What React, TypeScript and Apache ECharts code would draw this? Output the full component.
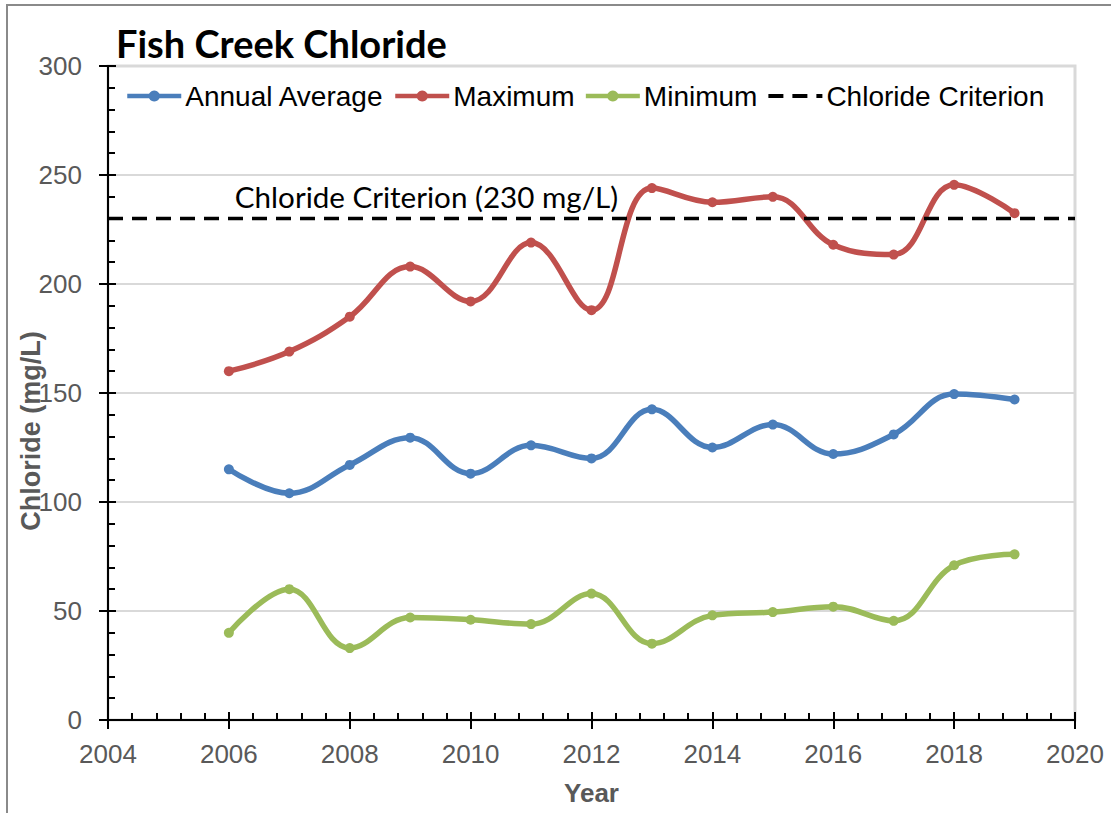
import React, { useEffect, useRef } from "react";
import * as echarts from "echarts";

const years = [2006, 2007, 2008, 2009, 2010, 2011, 2012, 2013, 2014, 2015, 2016, 2017, 2018, 2019];
const annualAverage = [115, 104, 117, 129.5, 113, 126, 120, 142.5, 125, 135.5, 122, 131, 149.5, 147];
const maximum = [160, 169, 185, 208, 192, 219, 188, 244, 237.5, 240, 218, 213.5, 245.5, 232.5];
const minimum = [40, 60, 33, 47, 46, 44, 58, 35, 48, 49.5, 52, 45.5, 71, 76];
const criterionValue = 230;
const criterionSpan = [2004, 2020];
const criterionLabel = "Chloride Criterion (230 mg/L)";
const criterionLabelAt = [2009.27, 240];
const seriesNames = ["Annual Average", "Maximum", "Minimum", "Chloride Criterion"];
const title = "Fish Creek Chloride";
const yName = "Chloride (mg/L)";
const xName = "Year";

const zip = (xs: number[], ys: number[]) => xs.map((x, i) => [x, ys[i]]);

export default function App() {
  const ref = useRef<HTMLDivElement>(null);
  useEffect(() => {
    if (!ref.current) return;
    const chart = echarts.init(ref.current, null, { renderer: "svg" });
    const tickFont = { fontFamily: "Liberation Sans, Arial, sans-serif", fontSize: 26, color: "#595959" };
    const lineSeries = (name: string, data: number[], color: string) => ({
      name,
      type: "line",
      data: zip(years, data),
      smooth: 0.4,
      symbol: "circle",
      symbolSize: 10,
      showSymbol: true,
      lineStyle: { color, width: 5.5 },
      itemStyle: { color },
      z: 3,
    });
    chart.setOption({
      animation: false,
      backgroundColor: "#ffffff",
      title: {
        text: title,
        left: 116,
        top: 24,
        padding: 0,
        textStyle: { fontFamily: "Lato, sans-serif", fontWeight: "bold", fontSize: 38, color: "#000" },
      },
      legend: {
        data: [
          { name: seriesNames[0] },
          { name: seriesNames[1] },
          { name: seriesNames[2] },
          { name: seriesNames[3], lineStyle: { width: 4 } },
        ],
        left: 125,
        top: 82,
        padding: 0,
        itemGap: 9,
        itemWidth: 54,
        itemHeight: 14,
        lineStyle: { width: 4.5 },
        textStyle: { fontFamily: "Liberation Sans, Arial, sans-serif", fontSize: 28, color: "#000", padding: [0, 0, 0, -1] },
      },
      grid: {
        left: 108,
        right: 36,
        top: 66,
        bottom: 93,
        show: true,
        borderColor: "#d9d9d9",
        borderWidth: 3,
        outerBoundsMode: "none",
        containLabel: false,
      },
      xAxis: [
        {
          type: "value",
          min: 2004,
          max: 2020,
          interval: 2,
          position: "bottom",
          name: xName,
          nameLocation: "middle",
          nameGap: 60,
          nameTextStyle: { fontFamily: "Liberation Sans, Arial, sans-serif", fontSize: 26, fontWeight: "bold", color: "#595959" },
          axisLine: { show: true, lineStyle: { color: "#000", width: 2 } },
          axisTick: { show: true, length: 9, lineStyle: { color: "#000", width: 2 } },
          axisLabel: { ...tickFont, margin: 21, formatter: (v: number) => String(v) },
          splitLine: { show: false },
          minorTick: { show: false },
        },
        {
          type: "value",
          min: 2004,
          max: 2020,
          interval: 2,
          position: "bottom",
          axisLine: { show: false },
          axisTick: { show: true, inside: true, length: 8, lineStyle: { color: "#000", width: 2 } },
          minorTick: { show: true, splitNumber: 5, length: 7, lineStyle: { color: "#000", width: 2 } },
          axisLabel: { show: false },
          splitLine: { show: false },
        },
      ],
      yAxis: [
        {
          type: "value",
          min: 0,
          max: 300,
          interval: 50,
          axisLine: { show: true, lineStyle: { color: "#000", width: 2 } },
          axisTick: { show: true, length: 9, lineStyle: { color: "#000", width: 2 } },
          axisLabel: { ...tickFont, margin: 26 },
          splitLine: { show: true, lineStyle: { color: "#d9d9d9", width: 2 } },
          minorTick: { show: false },
        },
        {
          type: "value",
          min: 0,
          max: 300,
          interval: 50,
          position: "left",
          axisLine: { show: false },
          axisTick: { show: true, inside: true, length: 8, lineStyle: { color: "#000", width: 2 } },
          minorTick: { show: true, splitNumber: 5, length: 7, lineStyle: { color: "#000", width: 2 } },
          axisLabel: { show: false },
          splitLine: { show: false },
        },
      ],
      graphic: [
        { type: "line", shape: { x1: 6, y1: 5, x2: 1111, y2: 5 }, style: { stroke: "#8a8a8a", lineWidth: 2 } },
        { type: "line", shape: { x1: 7, y1: 5, x2: 7, y2: 813 }, style: { stroke: "#8a8a8a", lineWidth: 2 } },
        {
          type: "text",
          x: 31,
          y: 431,
          rotation: Math.PI / 2,
          style: {
            text: yName,
            fontFamily: "Liberation Sans, Arial, sans-serif",
            fontSize: 27,
            fontWeight: "bold",
            fill: "#595959",
            textAlign: "center",
            textVerticalAlign: "middle",
          },
          z: 10,
        },
      ],
      series: [
        lineSeries(seriesNames[0], annualAverage, "#4a7ebb"),
        lineSeries(seriesNames[1], maximum, "#c0504d"),
        lineSeries(seriesNames[2], minimum, "#9bbb59"),
        {
          name: seriesNames[3],
          type: "line",
          data: criterionSpan.map((x) => [x, criterionValue]),
          symbol: "circle",
          showSymbol: false,
          lineStyle: { color: "#000", width: 3.5, type: [15, 9] },
          itemStyle: { color: "rgba(0,0,0,0)" },
          z: 4,
          markPoint: {
            symbol: "circle",
            symbolSize: 0,
            silent: true,
            data: [{ coord: criterionLabelAt }],
            label: {
              show: true,
              position: "inside",
              formatter: criterionLabel,
              fontFamily: "Lato, sans-serif",
              fontSize: 29.6,
              color: "#000",
            },
          },
        },
      ],
    });
    return () => chart.dispose();
  }, []);
  return <div ref={ref} style={{ position: "fixed", left: 0, top: 0, width: 1111, height: 813 }} />;
}
